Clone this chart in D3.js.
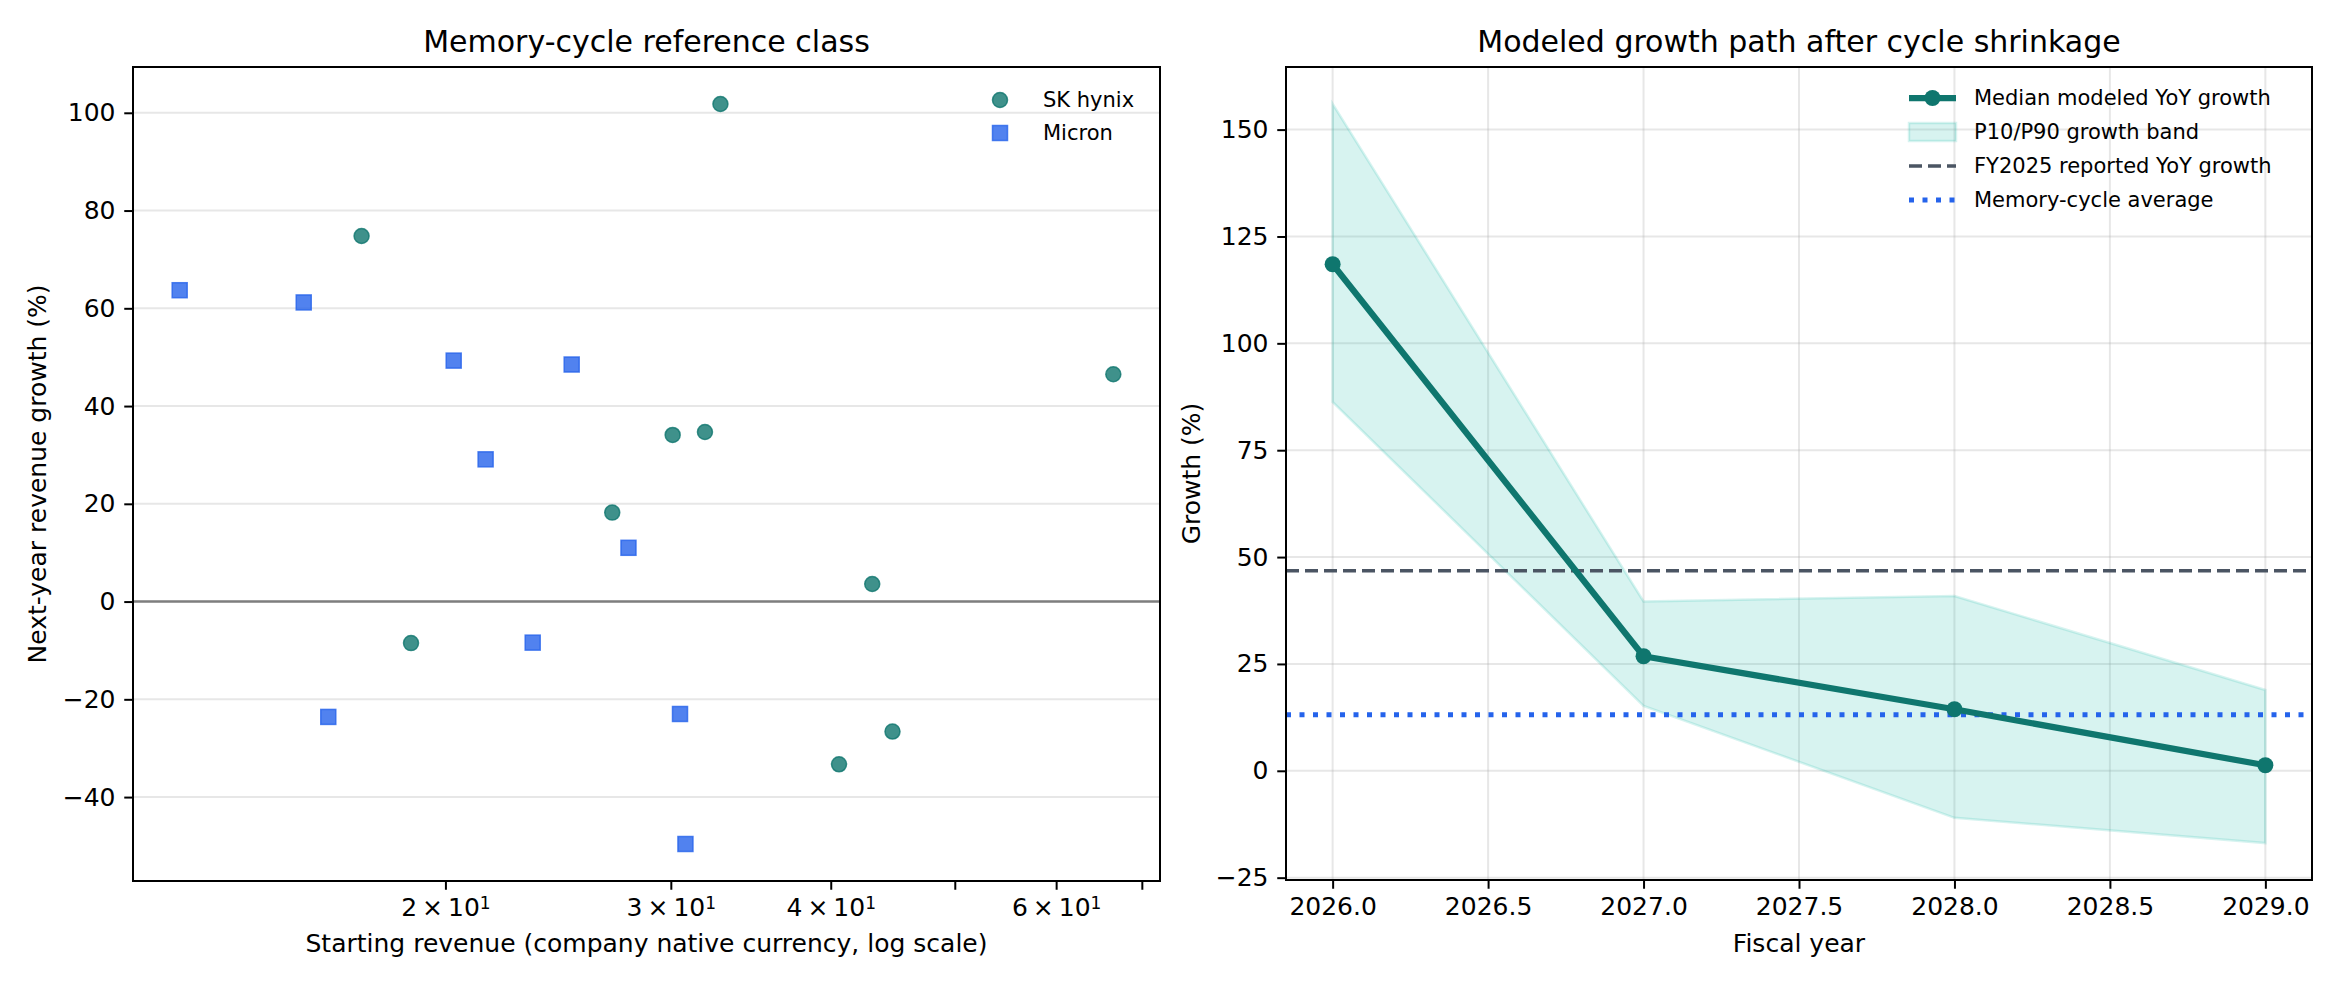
<!DOCTYPE html>
<html>
<head>
<meta charset="utf-8">
<script src="https://cdn.jsdelivr.net/npm/d3@7"></script>
<style>
  body { margin: 0; background: #fff; }
  svg { font-family: "DejaVu Sans", sans-serif; }
</style>
</head>
<body>
<svg width="2340" height="990"></svg>
<script>
// left panel: memory-cycle reference class
var hynixRevenue = [32.8, 17.2, 66.5, 30.1, 31.9, 27.0, 43.1, 18.8, 44.7, 40.6];
var hynixGrowth = [101.8, 74.8, 46.5, 34.1, 34.7, 18.2, 3.6, -8.5, -26.6, -33.3];
var micronRevenue = [12.4, 15.5, 20.3, 25.1, 21.5, 27.8, 23.4, 16.2, 30.5, 30.8];
var micronGrowth = [63.7, 61.2, 49.3, 48.5, 29.1, 11.0, -8.4, -23.6, -23.0, -49.6];
var logTicks = [20, 30, 40, 50, 60, 70];
var logTickLabels = {20: '2', 30: '3', 40: '4', 60: '6'};

// right panel: modeled growth path
var fiscalYears = [2026, 2027, 2028, 2029];
var medianGrowth = [118.5, 26.8, 14.4, 1.3];
var p10Growth = [86.3, 15.2, -11.0, -16.9];
var p90Growth = [156.0, 39.6, 40.9, 18.9];
var fy2025Growth = 46.8;
var cycleAverage = 13.1;

var teal = '#0f766e', blue = '#2563eb';
var svg = d3.select('svg');
var fs = 25, legendFs = 21;

var pad = function(ext, f) {
  var r = ext[1] - ext[0];
  return [ext[0] - r * f, ext[1] + r * f];
};

// ---------- left panel ----------
var L = {left: 133, right: 1160, top: 67, bottom: 881};
var allRev = hynixRevenue.concat(micronRevenue);
var allGr = hynixGrowth.concat(micronGrowth);
var lx = d3.extent(allRev).map(Math.log10);
lx = pad(lx, 0.05).map(function(v) { return Math.pow(10, v); });
var xL = d3.scaleLog().domain(lx).range([L.left, L.right]);
var yL = d3.scaleLinear().domain(pad(d3.extent(allGr), 0.05)).range([L.bottom, L.top]);

var gl = svg.append('g');
gl.selectAll('.hgrid').data([-40, -20, 0, 20, 40, 60, 80, 100]).enter()
  .append('line')
  .attr('x1', L.left).attr('x2', L.right)
  .attr('y1', function(d) { return yL(d); }).attr('y2', function(d) { return yL(d); })
  .attr('stroke', '#b0b0b0').attr('stroke-opacity', 0.3).attr('stroke-width', 2);

gl.append('line')
  .attr('x1', L.left).attr('x2', L.right)
  .attr('y1', yL(0)).attr('y2', yL(0))
  .attr('stroke', '#6b6b6b').attr('stroke-opacity', 0.85).attr('stroke-width', 2.5);

gl.selectAll('.hynix').data(hynixRevenue).enter()
  .append('circle')
  .attr('cx', function(d) { return xL(d); })
  .attr('cy', function(d, i) { return yL(hynixGrowth[i]); })
  .attr('r', 7.5)
  .attr('fill', teal).attr('fill-opacity', 0.8)
  .attr('stroke', teal).attr('stroke-opacity', 0.8).attr('stroke-width', 1.5);

gl.selectAll('.micron').data(micronRevenue).enter()
  .append('rect')
  .attr('x', function(d) { return xL(d) - 7.5; })
  .attr('y', function(d, i) { return yL(micronGrowth[i]) - 7.5; })
  .attr('width', 15).attr('height', 15)
  .attr('fill', blue).attr('fill-opacity', 0.8)
  .attr('stroke', blue).attr('stroke-opacity', 0.8).attr('stroke-width', 1.5);

var axL = gl.append('g').attr('transform', 'translate(' + L.left + ',0)')
  .call(d3.axisLeft(yL).tickValues([-40, -20, 0, 20, 40, 60, 80, 100]).tickSize(8.75).tickPadding(8.75));
var axB = gl.append('g').attr('transform', 'translate(0,' + L.bottom + ')')
  .call(d3.axisBottom(xL).tickValues(logTicks).tickSize(8.75).tickPadding(8.75).tickFormat(''));
axB.selectAll('.tick').each(function(d) {
  if (!logTickLabels[d]) return;
  var t = d3.select(this).append('text')
    .attr('y', 17.5).attr('dy', '0.71em')
    .attr('fill', '#000').attr('text-anchor', 'middle');
  t.append('tspan').text(logTickLabels[d] + '\u2009\u00d7\u200910');
  t.append('tspan').attr('dy', '-0.45em').attr('font-size', 17).text('1');
});

// ---------- right panel ----------
var R = {left: 1286, right: 2312, top: 67, bottom: 880};
var xR = d3.scaleLinear().domain(pad(d3.extent(fiscalYears), 0.05)).range([R.left, R.right]);
var yR = d3.scaleLinear()
  .domain(pad([d3.min(p10Growth), d3.max(p90Growth)], 0.05))
  .range([R.bottom, R.top]);
var xTicksR = d3.range(2026, 2029.01, 0.5);
var yTicksR = d3.range(-25, 151, 25);

var gr = svg.append('g');
gr.selectAll('.vgrid').data(xTicksR).enter().append('line')
  .attr('x1', function(d) { return xR(d); }).attr('x2', function(d) { return xR(d); })
  .attr('y1', R.top).attr('y2', R.bottom)
  .attr('stroke', '#b0b0b0').attr('stroke-opacity', 0.3).attr('stroke-width', 2);
gr.selectAll('.hgrid').data(yTicksR).enter().append('line')
  .attr('x1', R.left).attr('x2', R.right)
  .attr('y1', function(d) { return yR(d); }).attr('y2', function(d) { return yR(d); })
  .attr('stroke', '#b0b0b0').attr('stroke-opacity', 0.3).attr('stroke-width', 2);

var area = d3.area()
  .x(function(d, i) { return xR(fiscalYears[i]); })
  .y0(function(d, i) { return yR(p10Growth[i]); })
  .y1(function(d) { return yR(d); });
gr.append('path').datum(p90Growth)
  .attr('d', area)
  .attr('fill', '#14b8a6').attr('fill-opacity', 0.17)
  .attr('stroke', '#14b8a6').attr('stroke-opacity', 0.17).attr('stroke-width', 2.5);

gr.append('line')
  .attr('x1', R.left).attr('x2', R.right)
  .attr('y1', yR(fy2025Growth)).attr('y2', yR(fy2025Growth))
  .attr('stroke', '#4b5563').attr('stroke-width', 3.5).attr('stroke-dasharray', '13,6');
gr.append('line')
  .attr('x1', R.left).attr('x2', R.right)
  .attr('y1', yR(cycleAverage)).attr('y2', yR(cycleAverage))
  .attr('stroke', blue).attr('stroke-width', 5).attr('stroke-dasharray', '5,8.5');

var line = d3.line()
  .x(function(d, i) { return xR(fiscalYears[i]); })
  .y(function(d) { return yR(d); });
gr.append('path').datum(medianGrowth)
  .attr('d', line).attr('fill', 'none')
  .attr('stroke', teal).attr('stroke-width', 6.25).attr('stroke-linejoin', 'round');
gr.selectAll('.med').data(medianGrowth).enter().append('circle')
  .attr('cx', function(d, i) { return xR(fiscalYears[i]); })
  .attr('cy', function(d) { return yR(d); })
  .attr('r', 8).attr('fill', teal);

var axLR = gr.append('g').attr('transform', 'translate(' + R.left + ',0)')
  .call(d3.axisLeft(yR).tickValues(yTicksR).tickSize(8.75).tickPadding(8.75));
var axBR = gr.append('g').attr('transform', 'translate(0,' + R.bottom + ')')
  .call(d3.axisBottom(xR).tickValues(xTicksR).tickSize(8.75).tickPadding(8.75).tickFormat(d3.format('.1f')));

// axes styling
svg.selectAll('.domain').remove();
svg.selectAll('.tick line').attr('stroke', '#000').attr('stroke-width', 2);
svg.selectAll('.tick text').attr('font-size', fs).attr('font-family', '"DejaVu Sans", sans-serif').attr('fill', '#000');

[L, R].forEach(function(a) {
  svg.append('rect')
    .attr('x', a.left).attr('y', a.top)
    .attr('width', a.right - a.left).attr('height', a.bottom - a.top)
    .attr('fill', 'none').attr('stroke', '#000').attr('stroke-width', 2);
});

// titles and labels
var addText = function(x, y, txt, size, rot) {
  var t = svg.append('text')
    .attr('x', x).attr('y', y)
    .attr('text-anchor', 'middle')
    .attr('font-size', size).text(txt);
  if (rot) t.attr('transform', 'rotate(-90,' + x + ',' + y + ')');
  return t;
};
addText((L.left + L.right) / 2, 52, 'Memory-cycle reference class', 30);
addText((R.left + R.right) / 2, 52, 'Modeled growth path after cycle shrinkage', 30);
addText((L.left + L.right) / 2, 952, 'Starting revenue (company native currency, log scale)', fs);
addText((R.left + R.right) / 2, 952, 'Fiscal year', fs);
addText(46, (L.top + L.bottom) / 2, 'Next-year revenue growth (%)', fs, true);
addText(1200, (R.top + R.bottom) / 2, 'Growth (%)', fs, true);

// left legend
var legL = svg.append('g');
legL.append('circle').attr('cx', L.right - 160).attr('cy', L.top + 33).attr('r', 7.5)
  .attr('fill', teal).attr('fill-opacity', 0.8)
  .attr('stroke', teal).attr('stroke-opacity', 0.8).attr('stroke-width', 1.5);
legL.append('rect').attr('x', L.right - 167.5).attr('y', L.top + 66 - 7.5).attr('width', 15).attr('height', 15)
  .attr('fill', blue).attr('fill-opacity', 0.8)
  .attr('stroke', blue).attr('stroke-opacity', 0.8).attr('stroke-width', 1.5);
legL.selectAll('text').data(['SK hynix', 'Micron']).enter().append('text')
  .attr('x', L.right - 117)
  .attr('y', function(d, i) { return L.top + 33 + i * 33; })
  .attr('dy', '0.35em').attr('font-size', legendFs).text(function(d) { return d; });

// right legend
var hx0 = R.right - 403, hx1 = R.right - 356, rowY = function(i) { return R.top + 31 + i * 34; };
var legR = svg.append('g');
legR.append('line').attr('x1', hx0).attr('x2', hx1).attr('y1', rowY(0)).attr('y2', rowY(0))
  .attr('stroke', teal).attr('stroke-width', 6.25);
legR.append('circle').attr('cx', (hx0 + hx1) / 2).attr('cy', rowY(0)).attr('r', 8).attr('fill', teal);
legR.append('rect').attr('x', hx0).attr('y', rowY(1) - 9).attr('width', hx1 - hx0).attr('height', 18)
  .attr('fill', '#14b8a6').attr('fill-opacity', 0.17)
  .attr('stroke', '#14b8a6').attr('stroke-opacity', 0.17).attr('stroke-width', 2.5);
legR.append('line').attr('x1', hx0).attr('x2', hx1).attr('y1', rowY(2)).attr('y2', rowY(2))
  .attr('stroke', '#4b5563').attr('stroke-width', 3.5).attr('stroke-dasharray', '13,6');
legR.append('line').attr('x1', hx0).attr('x2', hx1).attr('y1', rowY(3)).attr('y2', rowY(3))
  .attr('stroke', blue).attr('stroke-width', 5).attr('stroke-dasharray', '5,8.5');
legR.selectAll('text')
  .data(['Median modeled YoY growth', 'P10/P90 growth band', 'FY2025 reported YoY growth', 'Memory-cycle average'])
  .enter().append('text')
  .attr('x', R.right - 338)
  .attr('y', function(d, i) { return rowY(i); })
  .attr('dy', '0.35em').attr('font-size', legendFs).text(function(d) { return d; });
</script>
</body>
</html>
